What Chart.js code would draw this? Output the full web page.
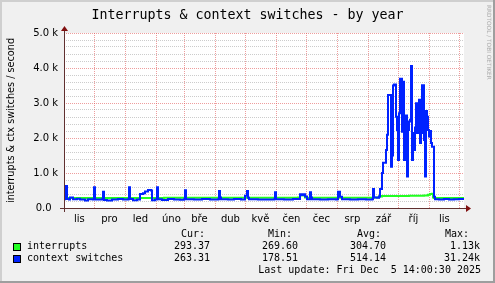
<!DOCTYPE html>
<html>
<head>
<meta charset="utf-8">
<script src="https://cdn.jsdelivr.net/npm/chart.js@4.4.1/dist/chart.umd.min.js"></script>
<style>
html, body { margin: 0; padding: 0; background: #f0f0f0; }
</style>
</head>
<body>
<canvas id="graphCanvas" width="495" height="283"></canvas>
<script>
// mesi sull'asse x (ultimi 400 giorni fino a Fri Dec 5 14:00:30 2025)
var monthLabels = ['lis', 'pro', 'led', 'úno', 'bře', 'dub', 'kvě', 'čen', 'čec', 'srp', 'zář', 'říj', 'lis'];
var graphEnd = new Date(2025, 11, 5, 14, 0, 30);
var graphDays = 400;

// context switches: giorno dall'inizio del grafico -> valore
var ctxDays = [0, 1, 2, 3, 5, 6, 9, 13, 16, 21, 24, 29, 30, 31, 38, 39, 40, 43, 48, 54, 59,
    64, 65, 66, 69, 73, 76, 79, 81, 84, 87, 88, 91, 93, 94, 98, 104, 110, 116, 120, 121, 122,
    130, 138, 146, 154, 155, 156, 157, 164, 170, 177, 181, 183, 184, 185, 194, 203, 210, 211, 212,
    220, 229, 234, 236, 238, 240, 241, 243, 246, 247, 248, 256, 264, 272, 273, 274, 276, 278,
    286, 294, 302, 308, 309, 310, 313, 315, 316, 318, 319, 321, 322, 323, 324, 326, 327, 328,
    329, 330, 331, 332, 333, 334, 335, 336, 337, 338, 339, 340, 341, 342, 343, 344, 345, 346,
    347, 348, 349, 350, 351, 352, 353, 354, 355, 356, 357, 358, 359, 360, 361, 362, 363, 364,
    365, 366, 367, 368, 369, 370, 371, 375, 380, 385, 390, 395, 400];
var ctxValues = [250, 260, 630, 255, 240, 300, 250, 265, 245, 215, 250, 240, 590, 245, 250, 465, 230, 215, 245, 260, 240,
    250, 590, 255, 225, 240, 400, 420, 470, 515, 500, 220, 245, 590, 250, 230, 255, 245, 235, 250, 510, 250,
    240, 255, 240, 250, 486, 300, 250, 240, 255, 240, 350, 486, 290, 250, 245, 240, 250, 448, 250,
    240, 255, 260, 390, 370, 390, 330, 250, 448, 300, 250, 240, 250, 240, 250, 466, 324, 250,
    240, 250, 245, 250, 540, 300, 290, 330, 540, 1000, 1290, 1290, 1660, 2090, 3230, 3230, 1180, 1500,
    3500, 3530, 3530, 2610, 2230, 1370, 2710, 3690, 3690, 2180, 3610, 1370, 2520, 2640, 900, 2230, 2470, 2520,
    4060, 1370, 2140, 1660, 2300, 2990, 2140, 2990, 3090, 1860, 2140, 3510, 3510, 1940, 900, 2770, 2610, 2230,
    2040, 2200, 1860, 1750, 1750, 320, 250, 240, 255, 245, 250, 255, 250];

// interrupts
var intDays = [0, 60, 100, 150, 200, 234, 236, 241, 243, 270, 310, 315, 318, 330, 345, 360, 364, 366, 368, 369, 370, 400];
var intValues = [285, 285, 290, 295, 295, 300, 360, 300, 295, 290, 300, 330, 340, 345, 350, 360, 380, 400, 410, 300, 285, 285];

// legenda
var legendNames = ['interrupts', 'context switches'];
var legendColors = ['#22ff22', '#0022ff'];
var curValues = ['293.37', '263.31'];
var minValues = ['269.60', '178.51'];
var avgValues = ['304.70', '514.14'];
var maxValues = ['1.13k', '31.24k'];
var lastUpdate = 'Last update: Fri Dec  5 14:00:30 2025';
var graphTitle = 'Interrupts & context switches - by year';
var yTitle = 'interrupts & ctx switches / second';

var majorGrid = 'rgba(224,80,80,0.56)';
var minorGrid = 'rgba(143,143,143,0.46)';

function toPoints(days, values) {
    return days.map(function (d, i) { return { x: d, y: values[i] }; });
}

// tick dell'asse x: inizio mese (griglia) e meta' mese (etichetta)
var graphStart = new Date(graphEnd.getTime() - graphDays * 86400000);
var xTicks = [];
for (var m = 0; m < 14; m++) {
    var d = (new Date(2024, 10 + m, 1) - graphStart) / 86400000;
    if (d > 0 && d < graphDays) xTicks.push({ value: d, label: '', grid: true });
    if (m < monthLabels.length) xTicks.push({ value: d + 15, label: monthLabels[m], grid: false });
}
xTicks.sort(function (a, b) { return a.value - b.value; });

var rrdLook = {
    id: 'rrdLook',
    beforeDraw: function (chart) {
        var ctx = chart.ctx, a = chart.chartArea;
        ctx.save();
        ctx.fillStyle = '#f0f0f0';
        ctx.fillRect(0, 0, chart.width, chart.height);
        ctx.fillStyle = '#ffffff';
        ctx.fillRect(a.left, a.top, a.right - a.left, a.bottom - a.top);
        ctx.restore();
    },
    afterDraw: function (chart) {
        var ctx = chart.ctx, a = chart.chartArea;
        var W = chart.width, H = chart.height;
        ctx.save();

        // assi
        ctx.strokeStyle = '#603030';
        ctx.lineWidth = 1;
        ctx.beginPath();
        ctx.moveTo(a.left - 4, a.bottom + 0.5);
        ctx.lineTo(a.right + 4, a.bottom + 0.5);
        ctx.moveTo(a.left + 0.5, a.bottom + 4);
        ctx.lineTo(a.left + 0.5, a.top - 4);
        ctx.stroke();
        ctx.fillStyle = '#801010';
        ctx.beginPath();
        ctx.moveTo(a.right + 2, a.bottom - 3);
        ctx.lineTo(a.right + 2, a.bottom + 4);
        ctx.lineTo(a.right + 7, a.bottom + 0.5);
        ctx.closePath();
        ctx.fill();
        ctx.beginPath();
        ctx.moveTo(a.left - 3, a.top - 2);
        ctx.lineTo(a.left + 4, a.top - 2);
        ctx.lineTo(a.left + 0.5, a.top - 7);
        ctx.closePath();
        ctx.fill();

        // titolo
        ctx.fillStyle = '#000000';
        ctx.font = '13.3px "DejaVu Sans Mono"';
        ctx.textAlign = 'center';
        ctx.textBaseline = 'alphabetic';
        ctx.fillText(graphTitle, W / 2, 18.5);

        // legenda
        ctx.font = '10px "DejaVu Sans Mono"';
        ctx.textAlign = 'left';
        ctx.fillText('Cur:', 181, 237);
        ctx.fillText('Min:', 268, 237);
        ctx.fillText('Avg:', 357, 237);
        ctx.fillText('Max:', 445, 237);
        for (var i = 0; i < legendNames.length; i++) {
            var y = 249 + i * 12;
            ctx.fillStyle = '#000000';
            ctx.fillRect(13, y - 6, 8, 8);
            ctx.fillStyle = legendColors[i];
            ctx.fillRect(14, y - 5, 6, 6);
            ctx.fillStyle = '#000000';
            ctx.textAlign = 'left';
            ctx.fillText(legendNames[i], 27, y);
            ctx.textAlign = 'right';
            ctx.fillText(curValues[i], 210, y);
            ctx.fillText(minValues[i], 298, y);
            ctx.fillText(avgValues[i], 386, y);
            ctx.fillText(maxValues[i], 480, y);
        }
        ctx.fillText(lastUpdate, 481, 273);

        // watermark
        ctx.save();
        ctx.translate(W - 4, 5);
        ctx.rotate(Math.PI / 2);
        ctx.fillStyle = 'rgba(0,0,0,0.3)';
        ctx.font = '5.8px "DejaVu Sans"';
        ctx.textAlign = 'left';
        ctx.textBaseline = 'top';
        ctx.fillText('RRDTOOL / TOBI OETIKER', 0, 0);
        ctx.restore();

        // cornice
        ctx.fillStyle = '#cfcfcf';
        ctx.fillRect(0, 0, W, 2);
        ctx.fillRect(0, 0, 2, H);
        ctx.fillStyle = '#9e9e9e';
        ctx.fillRect(W - 2, 0, 2, H);
        ctx.fillRect(0, H - 2, W, 2);
        ctx.restore();
    }
};

var lineGraph = new Chart(document.getElementById('graphCanvas'), {
    type: 'line',
    data: {
        datasets: [{
            label: legendNames[0],
            data: toPoints(intDays, intValues),
            borderColor: legendColors[0],
            borderWidth: 2,
            pointRadius: 0,
            stepped: true,
            fill: false,
            order: 1
        }, {
            label: legendNames[1],
            data: toPoints(ctxDays, ctxValues),
            borderColor: legendColors[1],
            borderWidth: 2,
            pointRadius: 0,
            stepped: true,
            fill: false,
            order: 0
        }]
    },
    options: {
        responsive: false,
        animation: false,
        devicePixelRatio: 1,
        layout: { padding: { left: 0, top: 33, right: 31, bottom: 58 } },
        plugins: {
            legend: { display: false },
            tooltip: { enabled: false },
            title: { display: false }
        },
        scales: {
            x: {
                type: 'linear',
                min: 0,
                max: graphDays,
                afterBuildTicks: function (scale) {
                    scale.ticks = xTicks.map(function (t) { return { value: t.value }; });
                },
                afterFit: function (scale) { scale.height = 17; },
                ticks: {
                    autoSkip: false,
                    maxRotation: 0,
                    minRotation: 0,
                    padding: 5,
                    color: '#000000',
                    font: { family: 'DejaVu Sans', size: 10 },
                    callback: function (value, index) { return xTicks[index] ? xTicks[index].label : ''; }
                },
                grid: {
                    drawTicks: false,
                    lineWidth: 1,
                    color: function (c) {
                        return (xTicks[c.index] && xTicks[c.index].grid) ? majorGrid : 'rgba(0,0,0,0)';
                    }
                },
                border: { display: false, dash: [1, 1] }
            },
            y: {
                min: 0,
                max: 5000,
                afterFit: function (scale) { scale.width = 64; },
                ticks: {
                    stepSize: 200,
                    autoSkip: false,
                    padding: 6,
                    color: '#000000',
                    font: { family: 'DejaVu Sans', size: 10 },
                    callback: function (value) {
                        var v = Math.round(value);
                        if (v % 1000 !== 0) return '';
                        return v === 0 ? '0.0  ' : (v / 1000).toFixed(1) + ' k';
                    }
                },
                grid: {
                    drawTicks: false,
                    lineWidth: 1,
                    color: function (c) {
                        return Math.round(c.tick.value) % 1000 === 0 ? majorGrid : minorGrid;
                    }
                },
                border: { display: false, dash: [1, 1] },
                title: {
                    display: true,
                    text: yTitle,
                    color: '#000000',
                    font: { family: 'DejaVu Sans', size: 9.7 },
                    padding: { top: 6, bottom: 0 }
                }
            }
        }
    },
    plugins: [rrdLook]
});
</script>
</body>
</html>
